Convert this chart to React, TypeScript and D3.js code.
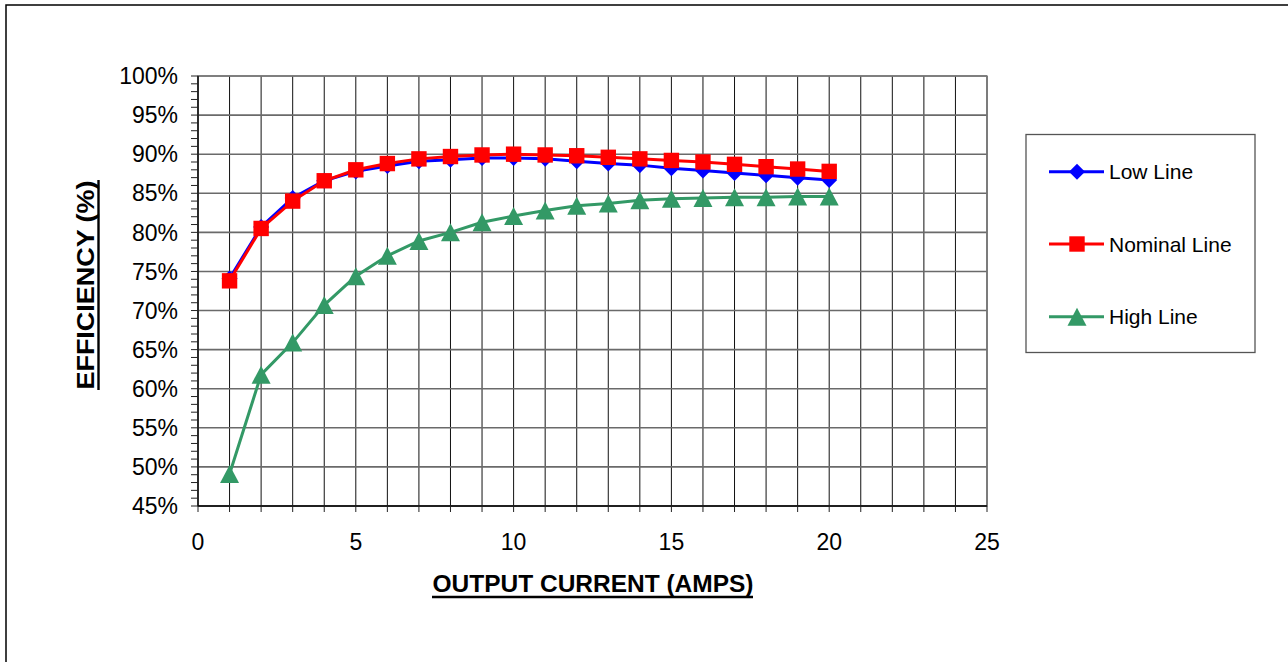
import React from "react";
import * as d3 from "d3";

const currents = [1, 2, 3, 4, 5, 6, 7, 8, 9, 10, 11, 12, 13, 14, 15, 16, 17, 18, 19, 20];
const lowLine = [74.1, 80.7, 84.4, 86.6, 87.8, 88.5, 89.1, 89.3, 89.5, 89.5, 89.4, 89.1, 88.8, 88.6, 88.2, 87.9, 87.6, 87.3, 87.0, 86.7];
const nominalLine = [73.8, 80.5, 84.0, 86.6, 88.0, 88.8, 89.4, 89.7, 89.9, 90.0, 89.9, 89.8, 89.6, 89.4, 89.2, 89.0, 88.7, 88.4, 88.1, 87.8];
const highLine = [49.1, 61.8, 65.9, 70.7, 74.4, 77.0, 78.9, 80.0, 81.3, 82.1, 82.8, 83.4, 83.7, 84.1, 84.3, 84.4, 84.5, 84.5, 84.6, 84.6];
const seriesNames = ["Low Line", "Nominal Line", "High Line"];
const seriesColors = ["#0000FF", "#FF0000", "#339966"];
const seriesMarkers = ["diamond", "square", "triangle"];
const yTickValues = [45, 50, 55, 60, 65, 70, 75, 80, 85, 90, 95, 100];
const xTickValues = [0, 5, 10, 15, 20, 25];

const FONT = "'Liberation Sans', Arial, sans-serif";

function Marker({ type, x, y, color }: { type: string; x: number; y: number; color: string }) {
  if (type === "diamond") {
    const s = 8;
    return <path d={`M${x},${y - s}L${x + s},${y}L${x},${y + s}L${x - s},${y}Z`} fill={color} />;
  }
  if (type === "square") {
    const s = 7.7;
    return <rect x={x - s} y={y - s} width={2 * s} height={2 * s} fill={color} />;
  }
  const w = 9.5, h = 9;
  return <path d={`M${x},${y - h}L${x + w},${y + h}L${x - w},${y + h}Z`} fill={color} />;
}

export default function App() {
  const x = d3.scaleLinear().domain([0, 25]).range([198, 987]);
  const y = d3.scaleLinear().domain([45, 100]).range([506, 76]);
  const data = [lowLine, nominalLine, highLine];
  const line = d3
    .line<number>()
    .x((_, i) => x(currents[i]))
    .y((d) => y(d));

  const minorY = d3.range(45, 100.5, 1);
  const minorX = d3.range(0, 25.5, 1);

  const legendRows = [171.7, 244, 316.7];

  return (
    <svg
      width={1288}
      height={662}
      style={{ position: "absolute", left: 0, top: 0, background: "#fff" }}
      fontFamily={FONT}
    >
      <rect x={6} y={5} width={1300} height={700} fill="#fff" stroke="#000" strokeWidth={1.5} />

      {/* vertical gridlines */}
      {minorX.map((v) => (
        <line key={"vx" + v} x1={x(v)} x2={x(v)} y1={y(100)} y2={y(45)} stroke="#111" strokeWidth={1} />
      ))}
      {/* horizontal gridlines */}
      {yTickValues.map((v) => (
        <line key={"hy" + v} x1={x(0)} x2={x(25)} y1={y(v)} y2={y(v)} stroke="#6a6a6a" strokeWidth={1.6} />
      ))}
      {/* plot border */}
      <rect x={x(0)} y={y(100)} width={x(25) - x(0)} height={y(45) - y(100)} fill="none" stroke="#777" strokeWidth={1.3} />

      {/* y axis */}
      <line x1={x(0)} x2={x(0)} y1={y(100)} y2={y(45)} stroke="#000" strokeWidth={1.3} />
      {minorY.map((v) => (
        <line key={"ty" + v} x1={x(0) - 7} x2={x(0)} y1={y(v)} y2={y(v)} stroke="#222" strokeWidth={1} />
      ))}
      {yTickValues.map((v) => (
        <text key={"ly" + v} x={178} y={y(v) + 8.2} textAnchor="end" fontSize={23} fill="#000">
          {v}%
        </text>
      ))}

      {/* x axis */}
      <line x1={x(0)} x2={x(25)} y1={y(45)} y2={y(45)} stroke="#000" strokeWidth={1.3} />
      {minorX.map((v) => (
        <line key={"tx" + v} x1={x(v)} x2={x(v)} y1={y(45)} y2={y(45) + 6} stroke="#222" strokeWidth={1} />
      ))}
      {xTickValues.map((v) => (
        <text key={"lx" + v} x={x(v)} y={550} textAnchor="middle" fontSize={23} fill="#000">
          {v}
        </text>
      ))}

      {/* titles */}
      <text x={593} y={592} textAnchor="middle" fontSize={24} fontWeight="bold" textLength={321} lengthAdjust="spacingAndGlyphs">
        OUTPUT CURRENT (AMPS)
      </text>
      <line x1={432} x2={753} y1={597} y2={597} stroke="#000" strokeWidth={2.4} />
      <g transform="translate(93.5,285) rotate(-90)">
        <text x={0} y={0} textAnchor="middle" fontSize={24} fontWeight="bold" textLength={209} lengthAdjust="spacingAndGlyphs">
          EFFICIENCY (%)
        </text>
        <line x1={-105} x2={105} y1={5} y2={5} stroke="#000" strokeWidth={2.4} />
      </g>

      {/* series */}
      {data.map((vals, si) => (
        <g key={"s" + si}>
          <path d={line(vals) || ""} fill="none" stroke={seriesColors[si]} strokeWidth={3} />
          {vals.map((v, i) => (
            <Marker key={i} type={seriesMarkers[si]} x={x(currents[i])} y={y(v)} color={seriesColors[si]} />
          ))}
        </g>
      ))}

      {/* legend */}
      <rect x={1026} y={134.5} width={229} height={218} fill="#fff" stroke="#555" strokeWidth={1.3} />
      {seriesNames.map((name, i) => (
        <g key={"lg" + i}>
          <line x1={1049} x2={1104} y1={legendRows[i]} y2={legendRows[i]} stroke={seriesColors[i]} strokeWidth={3} />
          <Marker type={seriesMarkers[i]} x={1077} y={legendRows[i]} color={seriesColors[i]} />
          <text x={1109} y={legendRows[i] + 7.5} fontSize={21} fill="#000">
            {name}
          </text>
        </g>
      ))}
    </svg>
  );
}
